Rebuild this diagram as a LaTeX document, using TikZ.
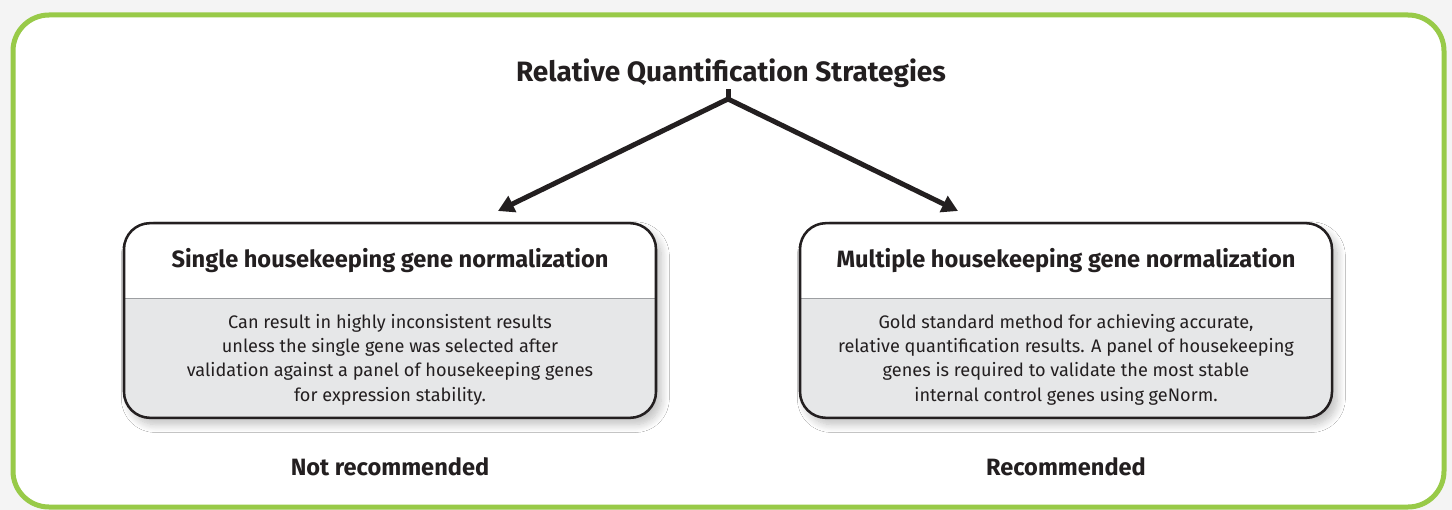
\documentclass[tikz,border=0pt]{standalone}
\usepackage{fontspec}
\setmainfont{Fira Sans}
\usetikzlibrary{arrows.meta,shadows.blur}

\definecolor{framegreen}{RGB}{152,202,72}
\definecolor{pagegrey}{RGB}{244,244,244}
\definecolor{boxgrey}{RGB}{230,231,232}
\definecolor{rulegrey}{RGB}{157,159,162}
\definecolor{inkblack}{RGB}{35,31,32}

\tikzset{every picture/.style={line width=0.75pt}}
\tikzset{
  forktip/.tip={Triangle[length=12pt, width=13pt]},
  stratbox/.style={draw=inkblack, line width=1.9pt, rounded corners=19.5pt, fill=boxgrey,
    minimum width=399pt, minimum height=146pt, inner sep=0pt,
    blur shadow={shadow xshift=4pt, shadow yshift=-5pt, shadow blur steps=10, shadow blur radius=6pt, shadow opacity=25},
    path picture={
      \fill[white, sharp corners] (path picture bounding box.north west) rectangle ([yshift=-56.25pt]path picture bounding box.north east);
      \draw[rulegrey, line width=0.8pt, sharp corners] ([yshift=-56.25pt]path picture bounding box.north west) -- ([yshift=-56.25pt]path picture bounding box.north east);
    }},
  titletext/.style={font=\bfseries\fontsize{21}{24}\selectfont, text=inkblack, inner sep=1pt},
  headtext/.style={font=\bfseries\fontsize{17.7}{20}\selectfont, text=inkblack},
  bodytext/.style={align=center, font=\fontsize{13.6}{18.2}\selectfont, text=inkblack},
  forkline/.style={draw=inkblack, line width=3.75pt, line join=miter}
}

\begin{document}
\begin{tikzpicture}[x=0.75pt,y=0.75pt,yscale=-1,xscale=1]
	% Background
	\useasboundingbox (0,0) rectangle (1452,510);
	\fill[pagegrey] (0,0) rectangle (1452,510);
	%Shape: Rounded Rect [frame]
	\draw[framegreen, line width=3.75pt, fill=white, rounded corners=27pt] (13,15) rectangle (1444,507);

	% Text Node
	\node[titletext] (title) at (731,73) {Relative Quantification Strategies};
	\coordinate (fork) at (728,99);
	\coordinate (tipL) at (498,211);
	\coordinate (tipR) at (958,211);

	%Straight Lines [stem]
	\draw[forkline] (title.south -| fork) -- (fork);
	%Straight Lines [fork arrows]
	\draw[forkline, forktip-forktip] (tipL) -- (fork) -- (tipR);

	%Shape: Rounded Rect [left]
	\node[stratbox] (single) at (390,320.5) {};
	%Shape: Rounded Rect [right]
	\node[stratbox] (multiple) at (1066,320.5) {};

	% Text Node
	\node[headtext] (singlehead) at (390,261) {Single housekeeping gene normalization};
	% Text Node
	\node[bodytext] (singlebody) at (390,359.5) {Can result in highly inconsistent results\\unless the single gene was selected after\\validation against a panel of housekeeping genes\\for expression stability.};
	% Text Node
	\node[headtext] (multiplehead) at (1066,261) {Multiple housekeeping gene normalization};
	% Text Node
	\node[bodytext] (multiplebody) at (1066,359.5) {Gold standard method for achieving accurate,\\relative quantification results. A panel of housekeeping\\genes is required to validate the most stable\\internal control genes using geNorm.};

	% Text Node
	\node[headtext] (notrec) at (390,467) {Not recommended};
	% Text Node
	\node[headtext] (rec) at (1066,467) {Recommended};
\end{tikzpicture}
\end{document}
